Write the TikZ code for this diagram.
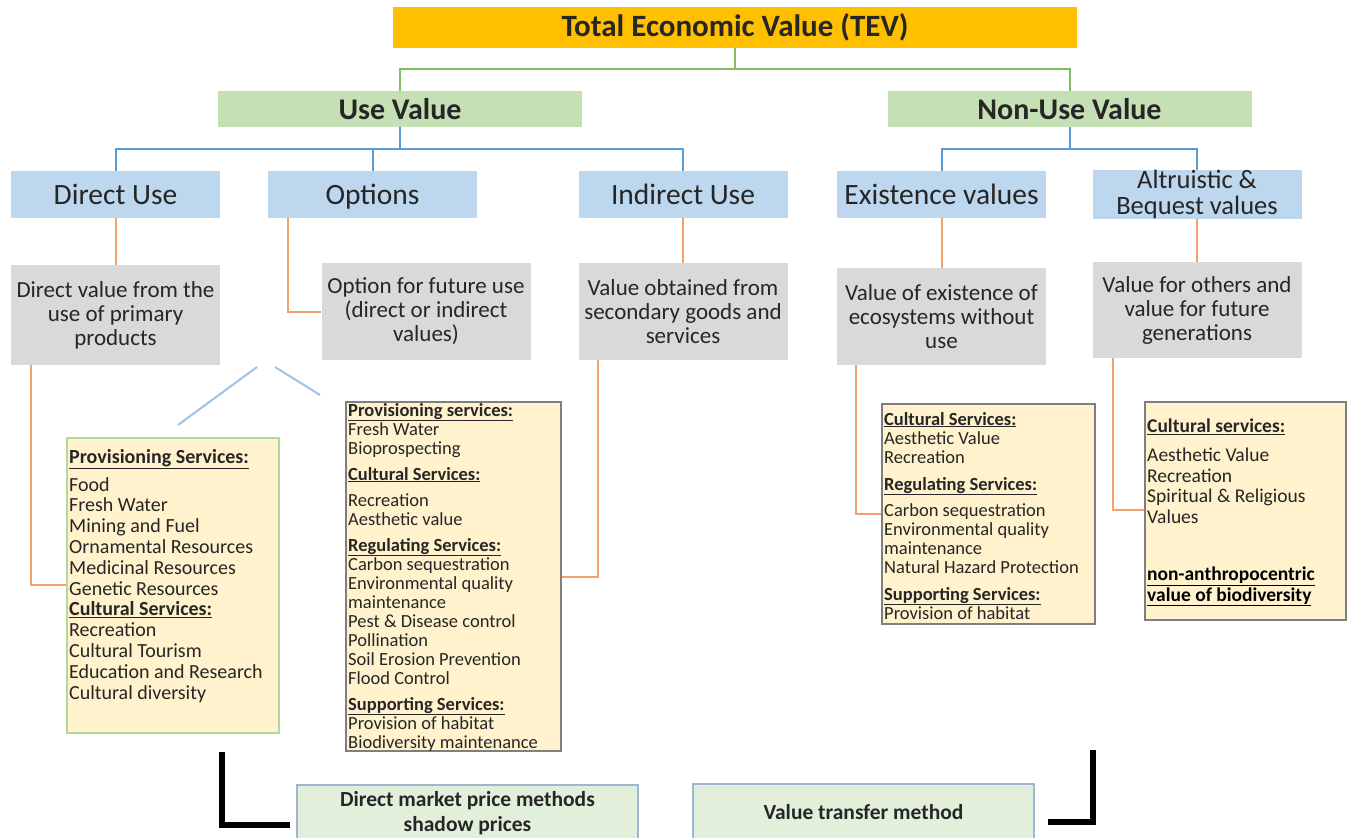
\documentclass[tikz,border=0pt]{standalone}
\usepackage{fontspec}
\setmainfont{Carlito}
\definecolor{tevc}{HTML}{FFC000}
\definecolor{grnc}{HTML}{C5E0B4}
\definecolor{grnl}{HTML}{84BC64}
\definecolor{bluc}{HTML}{BDD7EE}
\definecolor{blul}{HTML}{5B9BD5}
\definecolor{blud}{HTML}{9DC3E6}
\definecolor{gryc}{HTML}{D9D9D9}
\definecolor{orgl}{HTML}{F4A06C}
\definecolor{yelc}{HTML}{FFF2CC}
\definecolor{yelb}{HTML}{7F7F7F}
\definecolor{yelg}{HTML}{B4D89C}
\definecolor{botc}{HTML}{E2EFDA}
\definecolor{botb}{HTML}{9FB6D3}
\definecolor{txtc}{HTML}{262626}
\newcommand{\hd}[1]{\textbf{\underline{#1}}}
\begin{document}
\begin{tikzpicture}[x=1pt,y=-1pt,
  every node/.style={inner sep=0pt, text=txtc},
  tevbox/.style={fill=tevc, minimum width=684, minimum height=41, font=\fontsize{31}{33}\selectfont\bfseries},
  grnbox/.style={fill=grnc, minimum width=364, minimum height=36, font=\fontsize{30}{32}\selectfont\bfseries},
  blubox/.style={fill=bluc, minimum width=209, minimum height=47, align=center, font=\fontsize{29.5}{26}\selectfont},
  bluone/.style={blubox, text height=23pt, text depth=4pt},
  grybox/.style={fill=gryc, minimum width=209, align=center, font=\fontsize{23}{24}\selectfont},
  yelbox/.style={fill=yelc, draw=yelb, line width=1.2pt},
  yeltext/.style={anchor=base west, align=left},
  botbox/.style={fill=botc, draw=botb, line width=1.2pt, minimum width=341, minimum height=56, align=center, font=\fontsize{21.5}{25}\selectfont\bfseries},
  gl/.style={draw=grnl, line width=2pt},
  bl/.style={draw=blul, line width=2pt},
  bdl/.style={draw=blud, line width=2pt},
  ol/.style={draw=orgl, line width=2pt},
  kl/.style={draw=black, line width=6pt}
]
\useasboundingbox (0,0) rectangle (1347,838);

% top levels
\node[tevbox] (tev) at (735,27.5) {Total Economic Value (TEV)};
\node[grnbox] (use) at (400,109) {Use Value};
\node[grnbox] (nonuse) at (1069.5,109) {Non-Use Value};

% blue boxes
\node[bluone] (dir) at (115.5,194.5) {Direct Use};
\node[bluone] (opt) at (372.5,194.5) {Options};
\node[bluone] (ind) at (683,194.5) {Indirect Use};
\node[bluone] (exi) at (941.5,194.5) {Existence values};
\node[blubox, font=\fontsize{26.5}{26}\selectfont] (alt) at (1197,194.5) {Altruistic \&\\Bequest values};

% gray boxes
\node[grybox, minimum height=100] (dgray) at (115.5,315) {Direct value from the\\use of primary\\products};
\node[grybox, minimum height=97] (ogray) at (426,311.5) {Option for future use\\(direct or indirect\\values)};
\node[grybox, minimum height=97] (igray) at (683,311.5) {Value obtained from\\secondary goods and\\services};
\node[grybox, minimum height=97] (egray) at (941.5,316.5) {Value of existence of\\ecosystems without\\use};
\node[grybox, minimum height=96] (agray) at (1197,310) {Value for others and\\value for future\\generations};

% yellow boxes
\node[yelbox, draw=yelg, minimum width=212, minimum height=295] (lbox) at (173,585.5) {};
\node[yelbox, minimum width=215, minimum height=349] (mbox) at (453.5,576.5) {};
\node[yelbox, minimum width=213, minimum height=220] (rmbox) at (988.5,514) {};
\node[yelbox, minimum width=201, minimum height=218] (frbox) at (1245.5,511) {};

% texts anchored at the baseline of their last line
\node[yeltext, font=\fontsize{20}{20.8}\selectfont] (ltext) at (69,699) {\hd{Provisioning Services:}\\[7pt]
Food\\Fresh Water\\Mining and Fuel\\Ornamental Resources\\Medicinal Resources\\Genetic Resources\\
\hd{Cultural Services:}\\Recreation\\Cultural Tourism\\Education and Research\\Cultural diversity};

\node[yeltext, font=\fontsize{18.5}{19}\selectfont] (mtext) at (348,748) {\hd{Provisioning services:}\\Fresh Water\\Bioprospecting\\[7pt]
\hd{Cultural Services:}\\[7pt]Recreation\\Aesthetic value\\[7pt]
\hd{Regulating Services:}\\Carbon sequestration\\Environmental quality\\maintenance\\Pest \& Disease control\\Pollination\\Soil Erosion Prevention\\Flood Control\\[7pt]
\hd{Supporting Services:}\\Provision of habitat\\Biodiversity maintenance};

\node[yeltext, font=\fontsize{18.5}{19}\selectfont] (rmtext) at (884,619) {\hd{Cultural Services:}\\Aesthetic Value\\Recreation\\[8pt]
\hd{Regulating Services:}\\[7pt]Carbon sequestration\\Environmental quality\\maintenance\\Natural Hazard Protection\\[8pt]
\hd{Supporting Services:}\\Provision of habitat};

\node[yeltext, font=\fontsize{19.5}{20.5}\selectfont] (frtext) at (1147,601) {\hd{Cultural services:}\\[8.5pt]
Aesthetic Value\\Recreation\\Spiritual \& Religious\\Values\\[37pt]
{\color{black}\hd{non-anthropocentric}}\\{\color{black}\hd{value of biodiversity}}};

% bottom boxes
\node[botbox] (bot1) at (467.5,813) {Direct market price methods\\shadow prices};
\node[botbox] (bot2) at (863.5,812) {Value transfer method};

% connectors: green
\draw[gl] (tev.south) -- (tev.south |- 0,69);
\draw[gl] (use.north) |- (tev.south |- 0,69) -| (nonuse.north);

% connectors: blue
\draw[bl] (use.south) -- (use.south |- 0,149);
\draw[bl] (dir.north) |- (use.south |- 0,149) -| (ind.north);
\draw[bl] (opt.north) -- (opt.north |- 0,149);
\draw[bl] (nonuse.south) -- (nonuse.south |- 0,149);
\draw[bl] (exi.north) |- (nonuse.south |- 0,149) -| (alt.north);

% connectors: orange blue->gray
\draw[ol] (dir.south) -- (dgray.north);
\draw[ol] ([xshift=20pt]opt.south west) |- (ogray.west);
\draw[ol] (ind.south) -- (igray.north);
\draw[ol] (exi.south) -- (egray.north);
\draw[ol] (alt.south) -- (agray.north);

% connectors: orange gray->yellow
\draw[ol] ([xshift=20pt]dgray.south west) |- (lbox.west |- 0,585);
\draw[ol] ([xshift=20pt]igray.south west) |- (mbox.east |- 0,577);
\draw[ol] ([xshift=19pt]egray.south west) |- (rmbox.west |- 0,514);
\draw[ol] ([xshift=21pt]agray.south west) |- (frbox.west |- 0,510);

% diagonal light-blue strokes
\coordinate (d1a) at (257,367);
\coordinate (d1b) at (178,425);
\coordinate (d2a) at (275,367);
\coordinate (d2b) at (320,395);
\draw[bdl] (d1a) -- (d1b);
\draw[bdl] (d2a) -- (d2b);

% black brackets
\coordinate (k1a) at (222,752);
\coordinate (k1b) at (222,825);
\coordinate (k1c) at (290,825);
\draw[kl] (k1a) -- (k1b) -- (k1c);
\coordinate (k2a) at (1093,750);
\coordinate (k2b) at (1093,822);
\coordinate (k2c) at (1048,822);
\draw[kl] (k2a) -- (k2b) -- (k2c);
\end{tikzpicture}
\end{document}
